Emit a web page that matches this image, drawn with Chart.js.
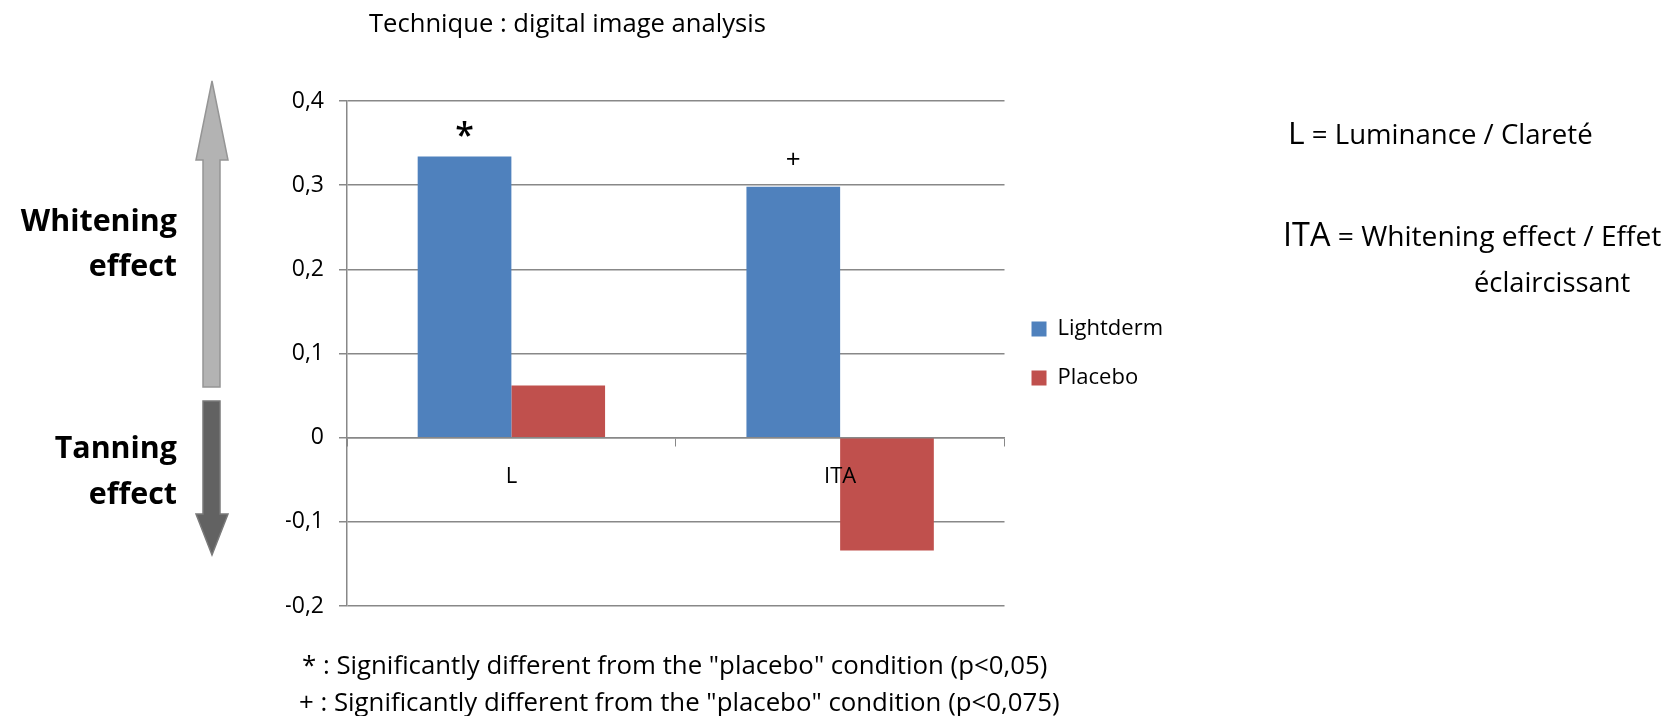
<!DOCTYPE html>
<html>
<head>
<meta charset="utf-8">
<script src="https://cdn.jsdelivr.net/npm/chart.js@4"></script>
<style>
  body { margin: 0; background: #fff; }
  #wrap { position: relative; width: 1676px; height: 716px; overflow: hidden; font-family: "Open Sans", sans-serif; color: #000; }
  #wrap canvas { position: absolute; left: 0; top: 0; }
  .txt { position: absolute; white-space: nowrap; }
  svg { position: absolute; left: 0; top: 0; }
</style>
</head>
<body>
<div id="wrap">
  <canvas id="chart" width="1676" height="716"></canvas>

  <svg width="260" height="600">
    <polygon points="212,81 228,160 220,160 220,387 203,387 203,160 196,160" fill="#b3b3b3" stroke="#959595" stroke-width="1.5"/>
    <polygon points="203,401 220,401 220,514 228,514 212,555 196,514 203,514" fill="#626262" stroke="#7a7a7a" stroke-width="1.5"/>
  </svg>

  <div class="txt" style="left:369px; top:6px; font-size:25.6px; line-height:34.8px;">Technique : digital image analysis</div>

  <div class="txt" style="right:1499px; top:199px; font-size:30.4px; line-height:41.4px; font-weight:bold; text-align:right;">Whitening</div>
  <div class="txt" style="right:1499px; top:244px; font-size:30.4px; line-height:41.4px; font-weight:bold; text-align:right;">effect</div>
  <div class="txt" style="right:1499px; top:426px; font-size:30.4px; line-height:41.4px; font-weight:bold; text-align:right;">Tanning</div>
  <div class="txt" style="right:1499px; top:472px; font-size:30.4px; line-height:41.4px; font-weight:bold; text-align:right;">effect</div>

  <div class="txt" style="left:1288px; top:110px; font-size:31.8px; line-height:43.3px;">L<span style="font-size:27.6px;"> = Luminance / Clareté</span></div>
  <div class="txt" style="left:1283px; top:211px; font-size:32.4px; line-height:44px;">ITA<span style="font-size:28.2px;"> = Whitening effect / Effet</span></div>
  <div class="txt" style="left:1474px; top:263px; font-size:27.3px; line-height:37.2px;">éclaircissant</div>

  <div class="txt" style="left:302px; top:647px; font-size:25.8px; line-height:35px;">* : Significantly different from the "placebo" condition (p&lt;0,05)</div>
  <div class="txt" style="left:299px; top:684px; font-size:25.8px; line-height:35px;">+ : Significantly different from the "placebo" condition (p&lt;0,075)</div>
</div>

<script>
const categories = ['L', 'ITA'];
const lightderm = [0.334, 0.298];
const placebo = [0.062, -0.134];
const sigMarks = ['*', '+'];
const yMin = -0.2;
const yMax = 0.4;
const yStep = 0.1;

Chart.defaults.font.family = '"Open Sans"';
Chart.defaults.color = '#000';

// stars / plus above the Lightderm bars
const sigMarkPlugin = {
    id: 'sigMarks',
    afterDatasetsDraw(chart) {
        const ctx = chart.ctx;
        const meta = chart.getDatasetMeta(0);
        ctx.save();
        ctx.fillStyle = '#000';
        ctx.textAlign = 'center';
        ctx.textBaseline = 'alphabetic';
        meta.data.forEach((bar, i) => {
            const mark = sigMarks[i];
            if (!mark) return;
            if (mark === '*') {
                ctx.font = '600 34px "Open Sans"';
                ctx.fillText(mark, bar.x, bar.y - 10);
            } else {
                ctx.font = '26px "Open Sans"';
                ctx.fillText(mark, bar.x, bar.y - 19);
            }
        });
        ctx.restore();
    }
};

const gridGray = '#888888';

new Chart(document.getElementById('chart'), {
    type: 'bar',
    data: {
        labels: categories,
        datasets: [
            { label: 'Lightderm', data: lightderm, backgroundColor: '#4F81BD' },
            { label: 'Placebo', data: placebo, backgroundColor: '#C0504D' }
        ]
    },
    options: {
        responsive: false,
        animation: false,
        devicePixelRatio: 1,
        categoryPercentage: 0.57,
        barPercentage: 1,
        layout: {
            padding: { left: 286, top: 101, right: 503, bottom: 110 }
        },
        plugins: {
            legend: {
                position: 'right',
                align: 'center',
                labels: {
                    boxWidth: 15,
                    boxHeight: 15,
                    padding: 27,
                    color: '#000',
                    font: { size: 22 }
                }
            },
            title: { display: false },
            tooltip: { enabled: false }
        },
        scales: {
            x: {
                position: { y: 0 },
                grid: {
                    drawOnChartArea: false,
                    drawTicks: true,
                    tickLength: 8,
                    color: gridGray,
                    offset: true
                },
                border: { color: gridGray, width: 1.5, z: 1 },
                ticks: {
                    z: 1,
                    color: '#000',
                    font: { size: 22 },
                    padding: 18
                }
            },
            y: {
                min: yMin,
                max: yMax,
                grid: {
                    color: gridGray,
                    lineWidth: 1.5,
                    tickLength: 8
                },
                border: { color: gridGray, width: 1.5 },
                ticks: {
                    stepSize: yStep,
                    color: '#000',
                    font: { size: 23 },
                    padding: 15,
                    callback: (v) => Math.abs(v) < 1e-9 ? '0' : Number(v).toFixed(1).replace('.', ',')
                },
                afterFit: (scale) => { scale.width = 61; }
            }
        }
    },
    plugins: [sigMarkPlugin]
});
</script>
</body>
</html>
